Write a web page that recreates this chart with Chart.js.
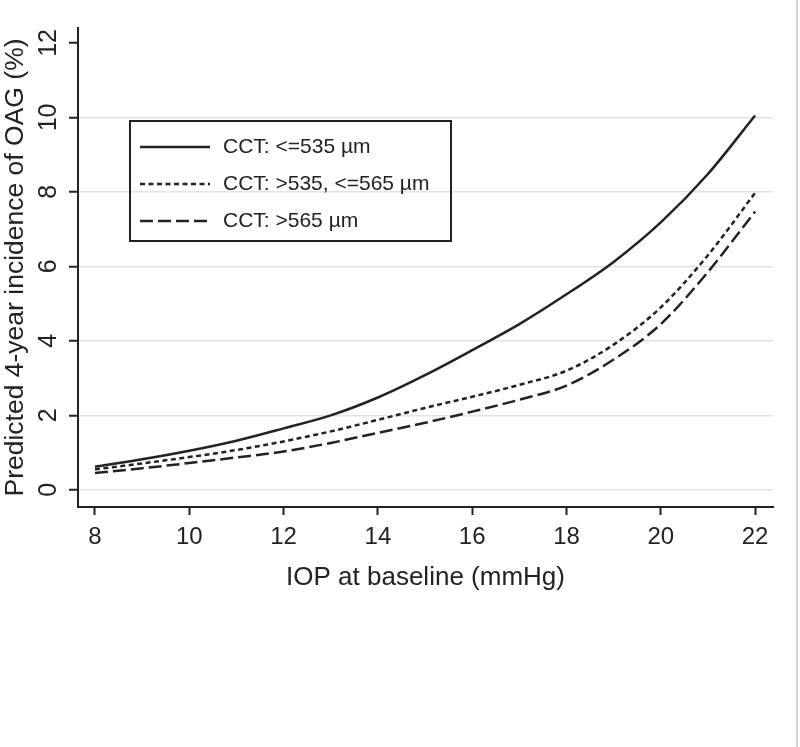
<!DOCTYPE html>
<html>
<head>
<meta charset="utf-8">
<script src="https://cdn.jsdelivr.net/npm/chart.js@4"></script>
<style>
  html, body { margin: 0; padding: 0; background: #fff; }
  #wrap { position: relative; width: 800px; height: 747px; }
  #edge { position: absolute; left: 796px; top: 0; width: 2px; height: 747px; background: #d4d4d4; }
</style>
</head>
<body>
<div id="wrap">
  <canvas id="myChart" width="800" height="747"></canvas>
  <div id="edge"></div>
</div>
<script>
// Данные графика
const iop = [8, 9, 10, 11, 12, 13, 14, 15, 16, 17, 18, 19, 20, 21, 22];
const cctLow = [0.62, 0.82, 1.05, 1.32, 1.65, 2.0, 2.48, 3.08, 3.75, 4.45, 5.25, 6.12, 7.18, 8.48, 10.05];
const cctMid = [0.55, 0.71, 0.88, 1.07, 1.3, 1.57, 1.88, 2.2, 2.5, 2.82, 3.2, 3.9, 4.9, 6.3, 7.97];
const cctHigh = [0.45, 0.58, 0.72, 0.87, 1.03, 1.26, 1.53, 1.8, 2.1, 2.42, 2.8, 3.5, 4.45, 5.85, 7.47];
const seriesLabels = ["CCT: <=535 µm", "CCT: >535, <=565 µm", "CCT: >565 µm"];
const xTicks = [8, 10, 12, 14, 16, 18, 20, 22];
const yTicks = [0, 2, 4, 6, 8, 10, 12];

const ink = "#222";
Chart.defaults.font.family = "'Liberation Sans', Arial, sans-serif";
Chart.defaults.color = ink;

function points(values) {
  return iop.map(function (x, i) {
    return { x: x, y: values[i] };
  });
}

// Легенда в рамке внутри области графика
const boxLegend = {
  id: "boxLegend",
  afterDraw(chart) {
    const c = chart.ctx;
    c.save();
    c.lineWidth = 2;
    c.strokeStyle = ink;
    c.strokeRect(130, 121, 321, 120);
    chart.data.datasets.forEach(function (ds, i) {
      const y = 147 + i * 37;
      c.setLineDash(ds.borderDash || []);
      c.lineWidth = 2.5;
      c.beginPath();
      c.moveTo(140, y);
      c.lineTo(210, y);
      c.stroke();
      c.setLineDash([]);
      c.fillStyle = ink;
      c.font = "21px 'Liberation Sans', Arial, sans-serif";
      c.textBaseline = "middle";
      c.fillText(ds.label, 223, y);
    });
    c.restore();
  },
};

const ctx = document.getElementById("myChart");

new Chart(ctx, {
  type: "line",
  data: {
    datasets: [
      { label: seriesLabels[0], data: points(cctLow), borderDash: [] },
      { label: seriesLabels[1], data: points(cctMid), borderDash: [5, 3.5] },
      { label: seriesLabels[2], data: points(cctHigh), borderDash: [13, 5] },
    ].map(function (ds) {
      return Object.assign(ds, {
        borderColor: ink,
        borderWidth: 2.5,
        pointRadius: 0,
        fill: false,
        cubicInterpolationMode: "monotone",
      });
    }),
  },
  options: {
    responsive: false,
    animation: false,
    devicePixelRatio: 1,
    layout: { padding: { top: 28, right: 27, bottom: 140, left: 0 } },
    plugins: { legend: { display: false }, tooltip: { enabled: false } },
    scales: {
      x: {
        type: "linear",
        min: 7.64,
        max: 22.38,
        afterBuildTicks: function (scale) {
          scale.ticks = xTicks.map(function (v) { return { value: v }; });
        },
        afterFit: function (scale) { scale.height = 100; },
        border: { display: true, color: ink, width: 2 },
        grid: { drawOnChartArea: false, drawTicks: true, tickLength: 8, tickColor: ink, tickWidth: 2 },
        ticks: { font: { size: 24 }, padding: 8, color: ink, maxRotation: 0 },
        title: {
          display: true,
          text: "IOP at baseline (mmHg)",
          font: { size: 26 },
          color: ink,
          padding: { top: 0, bottom: 14 },
        },
      },
      y: {
        type: "linear",
        min: -0.46,
        max: 12.4,
        afterBuildTicks: function (scale) {
          scale.ticks = yTicks.map(function (v) { return { value: v }; });
        },
        afterFit: function (scale) { scale.width = 78; },
        border: { display: true, color: ink, width: 2 },
        grid: {
          color: function (c) { return c.tick && c.tick.value === 12 ? "rgba(0,0,0,0)" : "#e3e3e3"; },
          lineWidth: 1.5,
          drawTicks: true,
          tickLength: 9,
          tickColor: ink,
          tickWidth: 2,
        },
        ticks: { font: { size: 25 }, padding: 6, color: ink, minRotation: 90, maxRotation: 90, crossAlign: "center" },
        title: {
          display: true,
          text: "Predicted 4-year incidence of OAG (%)",
          font: { size: 26.5 },
          color: ink,
          padding: { top: 0, bottom: 0 },
        },
      },
    },
  },
  plugins: [boxLegend],
});
</script>
</body>
</html>
